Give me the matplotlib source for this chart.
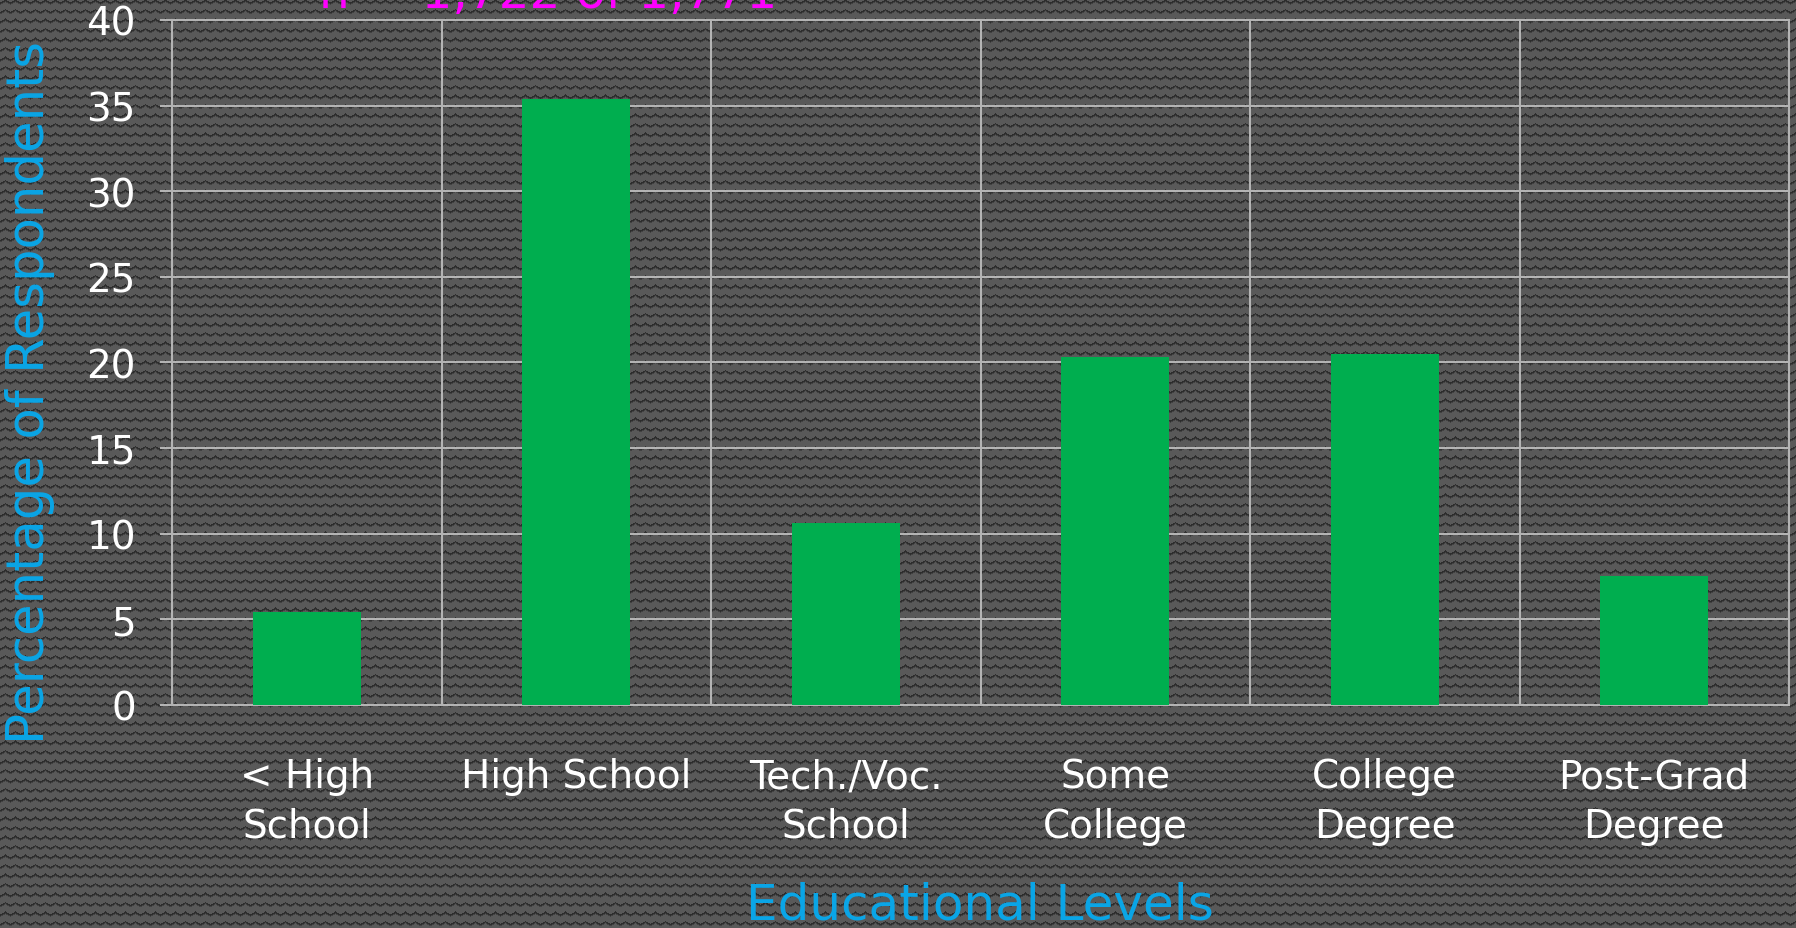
import numpy as np
import matplotlib
matplotlib.use("Agg")
import matplotlib.pyplot as plt

# ---- data ----
categories = ["< High\nSchool", "High School", "Tech./Voc.\nSchool",
              "Some\nCollege", "College\nDegree", "Post-Grad\nDegree"]
percentages = [5.4, 35.4, 10.6, 20.3, 20.5, 7.5]
y_ticks = [0, 5, 10, 15, 20, 25, 30, 35, 40]
title_text = "n = 1,722 of 1,771"
x_label = "Educational Levels"
y_label = "Percentage of Respondents"

W, H, DPI = 1796, 929, 100
FONT = ["DejaVu Sans"]
plt.rcParams["font.family"] = FONT
plt.rcParams["font.weight"] = 300

fig = plt.figure(figsize=(W / DPI, H / DPI), dpi=DPI)
fig.patch.set_facecolor("#4d4d4d")

# background zigzag texture (decoration)
xx = np.arange(W)
yy = np.arange(H)
tri = np.abs(((xx % 10) / 10.0) * 2 - 1) * 3.0
d = (yy[:, None] - tri[None, :]) % 9.5
tex = np.full((H, W), 0.35)
tex[d < 2.5] = 0.26
tex[d < 1.5] = 0.18
rgb = np.dstack([tex, tex, tex])
fig.figimage(rgb, xo=0, yo=0, origin="upper", zorder=0)

ax = fig.add_axes([172 / W, 1 - 705.7 / H, (1789 - 172) / W, (705.7 - 21) / H])
ax.set_facecolor("none")
ax.set_zorder(1)

x = np.arange(len(categories))
ax.bar(x, percentages, width=0.4, color="#00AE4F", zorder=3)

ax.set_xlim(-0.5, len(categories) - 0.5)
ax.set_ylim(0, 40)
ax.set_yticks(y_ticks)
ax.set_yticklabels([str(v) for v in y_ticks], fontweight="normal")
ax.set_xticks(x)
ax.set_xticklabels(categories, linespacing=1.38, fontweight="normal")
ax.set_xticks(np.arange(-0.5, len(categories), 1.0), minor=True)

grid_c = "#b4b4b4"
ax.grid(axis="y", which="major", color=grid_c, linewidth=1.5, zorder=1)
ax.grid(axis="x", which="minor", color=grid_c, linewidth=1.5, zorder=1)
ax.grid(axis="x", which="major", visible=False)

for s in ax.spines.values():
    s.set_color(grid_c)
    s.set_linewidth(1.5)

ax.tick_params(axis="y", which="major", length=9, width=1.5, color=grid_c,
               pad=17, labelsize=28, labelcolor="white")
ax.tick_params(axis="x", which="major", length=0, pad=38, labelsize=28,
               labelcolor="white")
ax.tick_params(axis="x", which="minor", length=0)

fig.text(30 / W, 1 - 392 / H, y_label, rotation=90, ha="center", va="center",
         color="#0AA5E6", fontsize=37, fontweight="normal")
fig.text(980 / W, 1 - 920 / H, x_label, ha="center", va="baseline",
         color="#0AA5E6", fontsize=36, fontweight="normal")
fig.text(548 / W, 1 - 8 / H, title_text, ha="center", va="baseline",
         color="#FF00FF", fontsize=35, fontweight="normal")

fig.savefig("out.png", dpi=DPI, facecolor=fig.get_facecolor())
